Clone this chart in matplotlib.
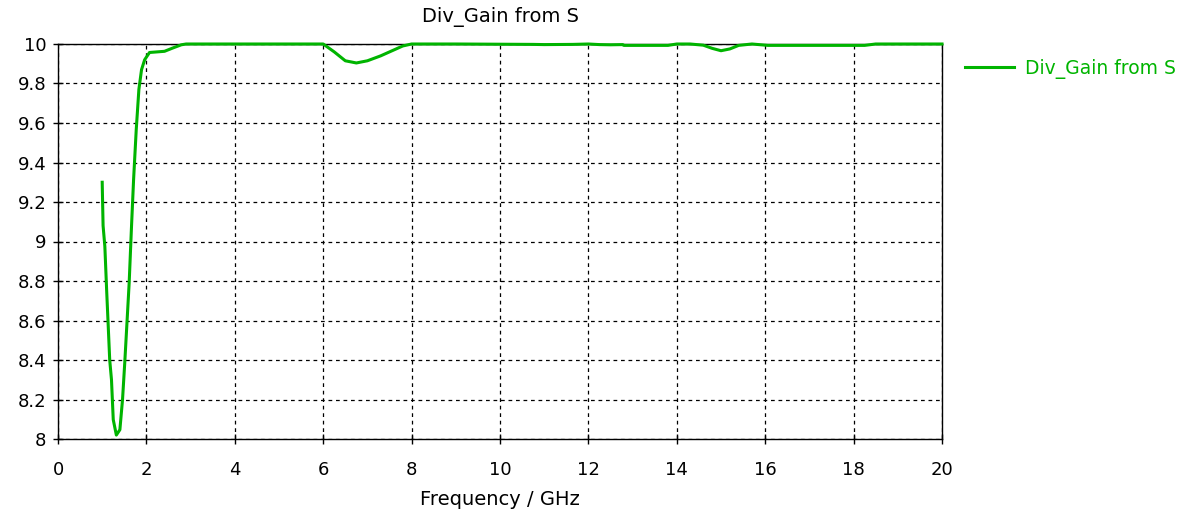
import matplotlib
matplotlib.use("Agg")
import matplotlib.pyplot as plt

# Frequency sweep (GHz) and diversity gain values
freq_ghz = [1.00, 1.02, 1.06, 1.10, 1.13, 1.17, 1.21, 1.25, 1.32, 1.40, 1.46, 1.51,
            1.56, 1.61, 1.66, 1.71, 1.77, 1.83, 1.89, 1.96, 2.07, 2.41, 2.60, 2.79,
            2.90, 4.00, 5.00, 6.00, 6.25, 6.50, 6.75, 7.00, 7.30, 7.60, 7.80, 8.00,
            9.00, 10.75, 11.00, 11.65, 12.00, 12.25, 12.50, 12.78, 12.80, 13.30,
            13.80, 14.00, 14.30, 14.60, 14.80, 15.00, 15.20, 15.40, 15.70, 16.06,
            17.00, 18.25, 18.50, 19.00, 20.00]
gain = [9.30, 9.08, 8.975, 8.756, 8.604, 8.40, 8.30, 8.098, 8.02, 8.047, 8.20, 8.385,
        8.587, 8.79, 9.06, 9.313, 9.566, 9.77, 9.87, 9.92, 9.957, 9.963, 9.98, 9.996,
        10.0, 10.0, 10.0, 10.0, 9.96, 9.915, 9.904, 9.915, 9.94, 9.97, 9.99, 10.0,
        10.0, 9.998, 9.997, 9.998, 10.0, 9.997, 9.996, 9.997, 9.993, 9.993,
        9.993, 10.0, 10.0, 9.994, 9.978, 9.966, 9.975, 9.993, 10.0, 9.993,
        9.993, 9.993, 10.0, 10.0, 10.0]

x_ticks = list(range(0, 21, 2))
y_ticks = [8, 8.2, 8.4, 8.6, 8.8, 9, 9.2, 9.4, 9.6, 9.8, 10]
y_tick_labels = ["8", "8.2", "8.4", "8.6", "8.8", "9", "9.2", "9.4", "9.6", "9.8", "10"]

series_name = "Div_Gain from S"
line_color = "#00b400"

plt.rcParams["font.family"] = ["DejaVu Sans"]

fig = plt.figure(figsize=(11.9, 5.17), dpi=100)
ax = fig.add_axes([58 / 1190, 1 - 439 / 517, (942 - 58) / 1190, (439 - 44) / 517])

ax.plot(freq_ghz, gain, color=line_color, linewidth=2.2, label=series_name,
        solid_joinstyle="round", zorder=3, clip_on=False)

ax.set_xlim(0, 20)
ax.set_ylim(8, 10)
ax.set_xticks(x_ticks)
ax.set_xticklabels([str(t) for t in x_ticks])
ax.set_yticks(y_ticks)
ax.set_yticklabels(y_tick_labels)

ax.grid(True, color="black", linestyle=(0, (3, 3)), linewidth=0.9)
ax.set_axisbelow(True)
for s in ax.spines.values():
    s.set_color("black")
    s.set_linewidth(1.0)

ax.tick_params(axis="both", direction="inout", length=7, width=1,
               labelsize=13, colors="black")
ax.tick_params(axis="x", pad=12)
ax.tick_params(axis="y", pad=5)

ax.set_title(series_name, fontsize=14, pad=16)
ax.set_xlabel("Frequency / GHz", fontsize=14, labelpad=8)

leg = fig.legend(loc="upper left", bbox_to_anchor=(965 / 1190, 1 - 59 / 517),
                 frameon=False, fontsize=13.5, handlelength=2.6, handletextpad=0.6,
                 borderpad=0, borderaxespad=0)
for t in leg.get_texts():
    t.set_color(line_color)

fig.savefig("out.png", dpi=100)
